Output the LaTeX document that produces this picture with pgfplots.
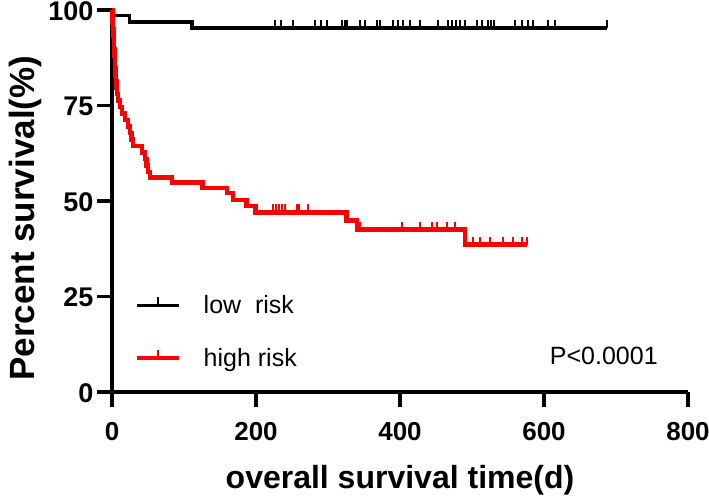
\documentclass[border=0pt]{standalone}
\usepackage{fontspec}
\setmainfont{Liberation Sans}
\usepackage{pgfplots}
\pgfplotsset{compat=1.18}
\pgfdeclareplotmark{cens}{\pgfpathmoveto{\pgfqpoint{0pt}{0pt}}\pgfpathlineto{\pgfqpoint{0pt}{8pt}}\pgfusepathqstroke}

\pgfplotstableread{
t s
0 100
1 98.6
24 96.9
111 95.3
688 95.3
}\lowcurve

\pgfplotstableread{
t s
227 95.3
235 95.3
251 95.3
282 95.3
290 95.3
298 95.3
319 95.3
323 95.3
327 95.3
344 95.3
351 95.3
368 95.3
372 95.3
390 95.3
397 95.3
404 95.3
414 95.3
428 95.3
453 95.3
466 95.3
472 95.3
478 95.3
484 95.3
490 95.3
507 95.3
514 95.3
522 95.3
526 95.3
531 95.3
560 95.3
569 95.3
578 95.3
585 95.3
606 95.3
615 95.3
688 95.3
}\lowcens

\pgfplotstableread{
t s
0 100
0.5 98.3
1 96.6
1.5 94.9
2 93.2
2.5 91.5
3 89.8
3.5 88.1
4 86.4
4.5 84.7
5 83.1
5.5 81.4
6 79.7
7 78.0
8 76.3
11 74.6
14 72.9
18 71.2
22 69.5
25 67.8
27 66.1
29 64.4
42 62.7
46 61.0
48 59.3
50 57.6
53 56.2
83 54.9
126 53.4
160 52.1
168 50.3
187 48.7
199 47.0
326 44.9
340 42.5
490 38.6
577 38.6
}\highcurve

\pgfplotstableread{
t s
224 47.0
228 47.0
232 47.0
236 47.0
240 47.0
257 47.0
260 47.0
272 47.0
344 42.5
403 42.5
428 42.5
444 42.5
451 42.5
465 42.5
476 42.5
501 38.6
511 38.6
525 38.6
543 38.6
557 38.6
569 38.6
576 38.6
}\highcens

\begin{document}
\begin{tikzpicture}
\begin{axis}[
  scale only axis, width=576pt, height=382pt,
  xmin=0, xmax=800, ymin=0, ymax=100,
  axis lines=left,
  axis line style={-, line width=3.5pt},
  xtick={0,200,400,600,800},
  ytick={0,25,50,75,100},
  tick align=outside,
  major tick length=15pt,
  tick style={line width=3.5pt, black},
  /pgf/number format/assume math mode=true,
  every tick label/.append style={font=\fontsize{27}{27}\selectfont\bfseries},
  xticklabel style={yshift=-12pt, font=\fontsize{26}{26}\selectfont\bfseries},
  yticklabel style={yshift=-1pt},
  xlabel={overall survival time(d)},
  ylabel={Percent survival(\%)},
  xlabel style={font=\fontsize{32}{32}\selectfont\bfseries, at={([yshift=-96pt]rel axis cs:0.5,0)}, anchor=base},
  ylabel style={font=\fontsize{35}{35}\selectfont\bfseries, at={([xshift=-77pt]rel axis cs:0,0.455)}, anchor=base},
  clip=false,
  legend style={draw=none, fill=none, font=\fontsize{25}{25}\selectfont,
    at={([xshift=23pt, yshift=22pt]rel axis cs:0,0)}, anchor=south west,
    row sep=29pt, inner sep=0pt, column sep=0pt,
    /tikz/every odd column/.append style={column sep=20pt}},
  legend cell align=left,
]
\addplot[black, line width=3.5pt, const plot,
  legend image code/.code={\draw[line width=3.5pt] (0pt,0pt) -- (42pt,0pt); \draw[line width=2pt] (21pt,0pt) -- (21pt,8pt);}]
  table[x=t, y=s] {\lowcurve};
\addlegendentry{low\ \ risk}
\addplot[red, line width=4.5pt, const plot,
  legend image code/.code={\draw[line width=4.5pt] (0pt,0pt) -- (42pt,0pt); \draw[line width=2pt] (21pt,0pt) -- (21pt,8pt);}]
  table[x=t, y=s] {\highcurve};
\addlegendentry{high risk}
\addplot[black, only marks, mark=cens, mark options={line width=2pt}, forget plot] table[x=t, y=s] {\lowcens};
\addplot[red, only marks, mark=cens, mark options={line width=2pt}, forget plot] table[x=t, y=s] {\highcens};
\node[anchor=west, inner sep=0pt, font=\fontsize{25}{25}\selectfont] at (axis cs:608,9.4) {P<0.0001};
\coordinate (O) at (rel axis cs:0,0);
\coordinate (T) at (rel axis cs:1,1);
\end{axis}
\pgfresetboundingbox
\path ([xshift=-112pt,yshift=-104pt]O) rectangle ([xshift=21pt,yshift=10pt]T);
\end{tikzpicture}
\end{document}
